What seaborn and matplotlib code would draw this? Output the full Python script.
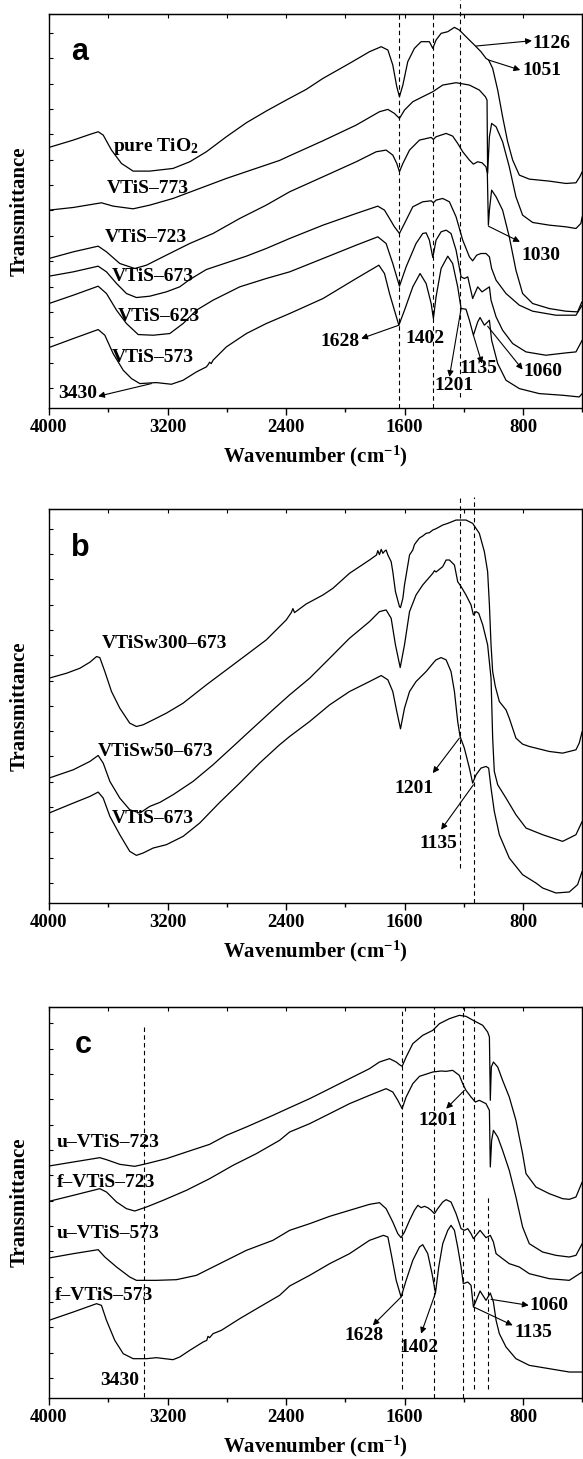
import numpy as np
import seaborn as sns
import matplotlib.pyplot as plt

sns.set_style('ticks', rc={'axes.edgecolor': 'black', 'xtick.color': 'black',
                           'ytick.color': 'black', 'text.color': 'black',
                           'axes.labelcolor': 'black'})
plt.rcParams['font.family'] = ['Liberation Serif', 'DejaVu Serif']
plt.rcParams['font.weight'] = 'bold'
plt.rcParams['mathtext.default'] = 'regular'

# ---------------- panel a : VTiS calcined at different temperatures ----------------
a_pure_wn = [4000, 3836, 3724, 3668, 3634, 3578, 3511, 3432, 3320, 3163, 3050, 2938, 2803, 2668, 2534,
             2399, 2264, 2151, 1972, 1837, 1758, 1713, 1680, 1653, 1635, 1612, 1579, 1534, 1489, 1433,
             1410, 1388, 1354, 1309, 1264, 1231, 1186, 1129, 1085, 1051, 1033, 1006, 972, 939, 905,
             871, 826, 759, 624, 512, 444, 418, 402]
a_pure_t = [78.1, 80.3, 82.0, 82.8, 81.8, 77.3, 73.3, 71.0, 71.0, 71.8, 73.8, 76.8, 81.3, 85.5, 89.0,
            92.3, 95.5, 98.8, 103.3, 106.8, 108.3, 107.3, 102.8, 96.3, 93.3, 96.8, 103.8, 107.8, 109.8, 109.8,
            107.8, 110.3, 112.3, 112.8, 114.1, 113.3, 111.3, 108.8, 106.8, 104.8, 104.3, 101.8, 95.3, 87.3, 79.8,
            74.3, 69.8, 68.6, 68.0, 67.3, 67.5, 69.3, 70.8]

a_773_wn = [4000, 3836, 3646, 3567, 3432, 3320, 3163, 2983, 2803, 2624, 2444, 2376, 2151, 1927, 1770,
            1713, 1669, 1635, 1601, 1545, 1478, 1410, 1343, 1253, 1163, 1096, 1055, 1044, 1040, 1028,
            1013, 983, 939, 894, 849, 804, 736, 624, 512, 444, 411, 402]
a_773_t = [59.3, 60.1, 61.5, 60.5, 59.7, 60.8, 62.8, 65.8, 68.8, 71.5, 74.2, 75.6, 80.1, 84.8, 88.8,
           89.5, 88.3, 86.8, 89.3, 91.8, 93.3, 94.8, 96.8, 97.5, 96.8, 95.3, 93.3, 92.3, 70.3, 81.3,
           85.3, 84.3, 79.8, 72.3, 63.3, 57.8, 55.6, 54.8, 54.3, 53.8, 55.3, 57.3]

a_723_wn = [4000, 3836, 3668, 3612, 3522, 3421, 3342, 3208, 3050, 2893, 2713, 2534, 2376, 2151, 1927,
            1792, 1725, 1680, 1653, 1635, 1612, 1567, 1500, 1421, 1406, 1388, 1320, 1276, 1242, 1208,
            1163, 1136, 1107, 1078, 1051, 1042, 1035, 1028, 1013, 983, 939, 894, 849, 804, 736,
            624, 512, 433, 404]
a_723_t = [44.8, 46.8, 48.5, 46.8, 43.3, 41.8, 42.8, 45.8, 49.3, 52.3, 56.8, 60.8, 64.8, 69.3, 73.8,
           76.8, 77.3, 75.8, 73.3, 70.8, 73.3, 77.3, 80.3, 81.1, 80.5, 81.3, 82.3, 81.5, 79.3, 76.8,
           74.3, 73.1, 73.8, 73.5, 72.3, 70.3, 54.8, 59.3, 65.3, 63.3, 59.3, 51.3, 41.3, 34.3, 31.3,
           29.8, 29.0, 28.8, 31.8]

a_673_wn = [4000, 3836, 3668, 3612, 3544, 3477, 3410, 3320, 3208, 3118, 3050, 2938, 2803, 2668, 2534,
            2376, 2151, 1927, 1781, 1736, 1702, 1669, 1635, 1601, 1545, 1478, 1421, 1406, 1388, 1343,
            1298, 1253, 1208, 1163, 1141, 1114, 1085, 1051, 1028, 1013, 983, 916, 826, 736, 579,
            444, 402]
a_673_t = [39.5, 40.8, 42.5, 40.8, 37.3, 34.3, 33.1, 33.5, 34.8, 36.3, 38.5, 41.5, 43.5, 45.5, 47.8,
           50.8, 54.8, 58.3, 60.5, 59.3, 56.8, 54.3, 52.3, 55.3, 60.3, 61.8, 62.1, 61.5, 62.3, 62.8,
           61.8, 57.3, 50.3, 45.3, 44.1, 45.8, 46.3, 46.3, 45.3, 41.8, 38.3, 34.3, 30.8, 29.0, 27.8,
           27.8, 30.8]

a_623_wn = [4000, 3836, 3668, 3612, 3544, 3477, 3398, 3297, 3185, 3095, 3005, 2893, 2713, 2534, 2376,
            2151, 1927, 1781, 1725, 1680, 1635, 1590, 1523, 1478, 1455, 1433, 1410, 1388, 1354, 1320,
            1287, 1253, 1219, 1197, 1174, 1141, 1107, 1078, 1028, 1017, 983, 939, 871, 781, 647,
            512, 444, 402]
a_623_t = [31.3, 33.8, 36.5, 34.3, 29.3, 25.3, 22.0, 21.8, 22.3, 25.3, 29.3, 32.3, 36.3, 38.8, 40.8,
           44.8, 48.8, 51.3, 49.3, 43.3, 36.5, 42.3, 49.3, 52.3, 52.5, 50.3, 45.1, 50.3, 52.8, 53.3,
           52.3, 47.3, 39.3, 38.8, 39.3, 32.8, 36.3, 34.8, 36.3, 32.3, 27.3, 23.3, 19.3, 16.8, 15.8,
           16.5, 16.8, 20.3]

a_573_wn = [4000, 3836, 3668, 3623, 3567, 3499, 3443, 3387, 3275, 3174, 3095, 3005, 2938, 2927, 2916,
            2905, 2893, 2803, 2668, 2534, 2376, 2151, 1927, 1774, 1736, 1702, 1669, 1639, 1601, 1545,
            1496, 1455, 1421, 1406, 1388, 1354, 1309, 1276, 1242, 1219, 1186, 1163, 1136, 1107, 1091,
            1062, 1028, 1013, 972, 916, 826, 692, 534, 422, 402]
a_573_t = [18.1, 20.8, 23.5, 21.8, 16.3, 11.3, 8.8, 7.3, 7.6, 7.1, 8.3, 10.8, 12.3, 12.9, 13.7,
           13.3, 14.3, 18.3, 22.3, 25.3, 28.3, 32.8, 38.8, 42.8, 40.3, 34.3, 29.3, 24.8, 29.3, 36.3,
           40.3, 37.3, 31.3, 26.8, 33.3, 41.8, 45.5, 43.3, 36.3, 29.8, 29.6, 26.3, 21.8, 25.8, 27.1,
           24.8, 26.3, 20.3, 13.3, 8.3, 5.8, 4.3, 3.8, 3.3, 4.3]

# ---------------- panel b : water washed samples ----------------
b_w300_wn = [4000, 3881, 3791, 3724, 3679, 3657, 3623, 3578, 3522, 3455, 3410, 3365, 3297, 3208, 3095,
             2938, 2803, 2668, 2534, 2399, 2365, 2354, 2343, 2264, 2151, 2084, 1972, 1837, 1790, 1781,
             1770, 1758, 1747, 1736, 1725, 1713, 1691, 1680, 1662, 1635, 1628, 1612, 1601, 1567, 1545,
             1534, 1523, 1500, 1478, 1455, 1433, 1410, 1388, 1343, 1309, 1253, 1186, 1141, 1096, 1062,
             1040, 1028, 1017, 1006, 988, 961, 916, 894, 849, 804, 759, 624, 534, 444, 422,
             402]
b_w300_t = [67.5, 69.0, 70.5, 72.3, 74.0, 73.7, 69.5, 63.5, 58.5, 54.0, 53.0, 53.5, 55.0, 57.0, 60.0,
            65.5, 70.0, 74.5, 79.0, 85.0, 87.2, 88.4, 87.2, 89.8, 92.5, 94.5, 99.0, 103.0, 104.5, 105.8,
            104.6, 106.2, 105.0, 105.6, 106.0, 104.5, 102.5, 99.5, 93.5, 89.0, 88.7, 91.5, 95.5, 104.5, 106.0,
            107.6, 108.3, 109.6, 110.2, 111.0, 111.2, 112.0, 112.4, 113.5, 114.0, 115.0, 115.0, 114.0, 111.0, 105.5,
            99.5, 89.5, 77.5, 69.5, 65.0, 60.5, 58.0, 55.5, 49.5, 47.7, 47.0, 45.5, 45.0, 46.0, 48.0,
            51.5]

b_w50_wn = [4000, 3836, 3724, 3668, 3634, 3589, 3522, 3455, 3387, 3320, 3252, 3163, 3028, 2893, 2758,
            2624, 2489, 2376, 2241, 2106, 1972, 1837, 1770, 1725, 1691, 1662, 1630, 1601, 1567, 1523,
            1478, 1410, 1399, 1388, 1343, 1320, 1298, 1264, 1242, 1219, 1186, 1152, 1136, 1118, 1100,
            1073, 1040, 1017, 1006, 995, 972, 916, 849, 781, 669, 534, 444, 402]
b_w50_t = [37.5, 40.0, 42.5, 44.3, 42.0, 36.5, 31.5, 28.0, 27.0, 29.0, 30.2, 32.5, 36.5, 41.5, 47.0,
           52.5, 58.0, 62.5, 67.5, 73.5, 79.5, 84.5, 87.5, 88.0, 85.5, 77.5, 70.7, 77.5, 87.5, 92.5,
           95.5, 99.0, 99.8, 99.4, 101.0, 103.0, 103.0, 101.5, 96.5, 95.0, 92.5, 89.5, 86.5, 87.5, 87.0,
           83.5, 77.5, 67.5, 49.5, 39.5, 35.5, 31.5, 26.5, 22.5, 20.5, 18.5, 20.5, 24.5]

b_673_wn = [4000, 3836, 3724, 3668, 3634, 3589, 3522, 3455, 3410, 3365, 3297, 3208, 3095, 2983, 2848,
            2713, 2579, 2444, 2376, 2241, 2106, 1972, 1837, 1758, 1713, 1680, 1653, 1628, 1601, 1567,
            1523, 1455, 1399, 1388, 1354, 1320, 1287, 1264, 1242, 1226, 1197, 1163, 1141, 1118, 1085,
            1051, 1033, 1017, 995, 961, 894, 804, 714, 669, 579, 489, 433, 402]
b_673_t = [27.0, 30.0, 32.0, 33.3, 31.5, 26.0, 20.5, 15.5, 14.3, 15.0, 16.5, 17.5, 20.0, 24.0, 30.2,
           36.0, 42.0, 47.5, 50.0, 54.5, 59.5, 63.5, 66.5, 68.3, 67.0, 63.5, 57.5, 52.3, 58.5, 63.5,
           66.5, 69.5, 72.5, 73.0, 73.7, 73.0, 69.5, 63.5, 54.5, 50.0, 46.5, 40.5, 36.0, 38.5, 40.5,
           41.0, 40.5, 34.5, 27.5, 20.5, 13.5, 8.5, 6.0, 4.5, 3.0, 3.3, 5.5, 9.5]

# ---------------- panel c : used (u) and fresh (f) catalysts ----------------
c_u723_wn = [4000, 3836, 3657, 3612, 3522, 3421, 3342, 3208, 3073, 2916, 2803, 2668, 2489, 2376, 2241,
             2106, 1972, 1837, 1770, 1702, 1657, 1635, 1617, 1590, 1545, 1478, 1410, 1399, 1365, 1298,
             1231, 1186, 1129, 1073, 1040, 1028, 1022, 1015, 1001, 972, 939, 894, 849, 804, 781,
             714, 624, 534, 489, 444, 402]
c_u723_t = [69.6, 70.8, 72.1, 71.5, 70.1, 69.5, 70.3, 71.8, 73.8, 76.1, 78.8, 81.3, 84.8, 87.1, 89.8,
            92.8, 95.8, 98.8, 100.8, 101.8, 100.8, 100.0, 99.5, 102.3, 106.3, 108.8, 110.3, 110.8, 112.3, 113.8,
            114.8, 114.5, 113.1, 111.8, 109.8, 108.3, 89.3, 99.3, 100.8, 99.3, 95.3, 90.3, 83.3, 73.3, 67.3,
            63.3, 61.3, 59.8, 59.6, 60.3, 64.8]

c_f723_wn = [4000, 3836, 3657, 3612, 3544, 3477, 3421, 3342, 3230, 3073, 2916, 2758, 2601, 2444, 2376,
             2241, 2106, 1972, 1837, 1725, 1680, 1646, 1617, 1590, 1545, 1500, 1410, 1354, 1320, 1276,
             1231, 1208, 1186, 1152, 1123, 1096, 1051, 1028, 1022, 1013, 1001, 972, 939, 894, 849,
             804, 759, 669, 579, 489, 444, 402]
c_f723_t = [59.0, 60.8, 62.8, 61.8, 58.8, 56.8, 56.1, 57.3, 59.3, 62.3, 65.8, 69.8, 73.3, 77.3, 79.8,
            82.3, 85.3, 88.3, 90.8, 92.8, 91.8, 89.3, 86.8, 90.3, 94.3, 96.5, 97.8, 98.1, 98.0, 98.3,
            96.8, 94.3, 92.3, 90.3, 88.8, 89.3, 88.3, 86.3, 69.3, 77.3, 80.3, 78.3, 74.3, 68.3, 60.3,
            51.3, 46.3, 43.8, 42.8, 42.3, 42.8, 46.3]

c_u573_wn = [4000, 3836, 3668, 3623, 3544, 3455, 3410, 3275, 3140, 3005, 2893, 2803, 2668, 2489, 2376,
             2241, 2106, 1972, 1837, 1770, 1725, 1680, 1646, 1624, 1601, 1567, 1534, 1511, 1489, 1466,
             1444, 1421, 1399, 1377, 1343, 1320, 1287, 1253, 1219, 1197, 1174, 1152, 1136, 1091, 1051,
             1022, 1001, 983, 939, 894, 826, 759, 624, 489, 402]
c_u573_t = [42.0, 43.3, 44.5, 42.3, 39.3, 36.3, 35.3, 35.3, 35.5, 36.8, 39.3, 41.3, 44.3, 47.3, 50.3,
            52.3, 54.5, 56.3, 58.1, 58.6, 56.8, 52.8, 49.3, 48.1, 49.8, 53.3, 56.3, 57.8, 57.1, 57.5,
            57.1, 56.3, 55.3, 56.8, 58.8, 59.5, 58.8, 55.3, 50.8, 50.3, 50.8, 49.3, 47.8, 50.3, 48.1,
            48.8, 46.8, 43.3, 41.8, 40.3, 39.3, 37.3, 35.8, 35.3, 37.8]

c_f573_wn = [4000, 3836, 3679, 3646, 3612, 3556, 3499, 3432, 3342, 3275, 3163, 3118, 3050, 2960, 2935,
             2927, 2916, 2893, 2837, 2713, 2579, 2444, 2376, 2241, 2106, 1972, 1837, 1743, 1713, 1691,
             1657, 1624, 1590, 1545, 1500, 1478, 1444, 1415, 1392, 1370, 1343, 1309, 1287, 1264, 1242,
             1219, 1204, 1174, 1152, 1136, 1091, 1051, 1022, 1001, 983, 961, 916, 849, 759, 624,
             489, 402]
c_f573_t = [23.3, 25.8, 28.3, 27.8, 23.3, 17.3, 13.3, 11.8, 11.8, 12.1, 11.5, 12.3, 14.3, 16.8, 17.3,
            18.5, 18.1, 19.3, 20.3, 23.8, 27.3, 30.8, 33.6, 36.8, 40.3, 43.3, 47.3, 48.8, 48.3, 43.3,
            35.3, 30.3, 35.3, 41.3, 45.3, 46.0, 43.3, 37.3, 31.5, 39.3, 46.3, 50.3, 51.8, 50.3, 45.3,
            39.3, 34.3, 34.8, 33.8, 27.3, 32.1, 29.3, 31.5, 28.8, 23.3, 19.3, 15.3, 11.8, 9.8, 8.8,
            7.8, 7.8]

# band positions marked with dashed lines (wavenumber, y from, y to)
a_bands = [(1637, 0, 118.1), (1408, 0, 118.1), (1224, 3.3, 122.3)]
b_bands = [(1228, 10.5, 121.9), (1134, 0, 121.9)]
c_bands = [(3360, 0.3, 111.8), (1619, 2.8, 116.3), (1399, 0, 117.3), (1204, 0, 117.3),
           (1134, 2.8, 117.3), (1035, 2.8, 60.3)]

LBL = 14


def style_axes(ax, ytop):
    ax.set_xlim(4000, 400)
    ax.set_ylim(0, ytop)
    ax.set_xticks([4000, 3200, 2400, 1600, 800])
    ax.set_xticks([3600, 2800, 2000, 1200, 400], minor=True)
    ax.set_yticks(np.arange(6.0, ytop, 7.6))
    ax.set_yticklabels([])
    ax.tick_params(axis='x', which='major', direction='out', length=5, width=1, labelsize=13.5, pad=3)
    ax.tick_params(axis='x', which='minor', direction='out', length=3, width=1)
    ax.tick_params(axis='y', direction='in', length=3, width=0.8)
    for lab in ax.get_xticklabels():
        lab.set_fontweight('bold')
    top = ax.secondary_xaxis('top')
    top.set_xticks([4000, 3200, 2400, 1600, 800])
    top.set_xticks([3600, 2800, 2000, 1200, 400], minor=True)
    top.tick_params(which='both', direction='in', length=3, width=0.8, labeltop=False)
    for s in ax.spines.values():
        s.set_linewidth(1.0)
    ax.set_xlabel('Wavenumber (cm$^{-1}$)', fontsize=15, fontweight='bold')
    ax.set_ylabel('Transmittance', fontsize=15, fontweight='bold')
    ax.xaxis.set_label_coords(0.5, -0.092)
    ax.yaxis.set_label_coords(-0.037, 0.5)


def draw_panel(ax, curves, bands, ytop):
    for wn, t in curves:
        sns.lineplot(x=wn, y=t, ax=ax, color='black', linewidth=0.9, sort=False, estimator=None)
    for x, y0, y1 in bands:
        ax.plot([x, x], [y0, y1], color='black', lw=0.8, ls=(0, (4, 3)), clip_on=False)
    style_axes(ax, ytop)


def arrow(ax, tail, head):
    ax.annotate('', xy=head, xytext=tail,
                arrowprops=dict(arrowstyle='-|>', color='black', lw=0.8, mutation_scale=9,
                                shrinkA=0, shrinkB=0))


fig = plt.figure(figsize=(5.83, 14.59), dpi=100)
ax_a = fig.add_axes([0.0840, 0.7204, 0.9151, 0.2700])
ax_b = fig.add_axes([0.0840, 0.3811, 0.9151, 0.2700])
ax_c = fig.add_axes([0.0840, 0.0418, 0.9151, 0.2680])

draw_panel(ax_a, [(a_pure_wn, a_pure_t), (a_773_wn, a_773_t), (a_723_wn, a_723_t),
                  (a_673_wn, a_673_t), (a_623_wn, a_623_t), (a_573_wn, a_573_t)], a_bands, 118.1)
draw_panel(ax_b, [(b_w300_wn, b_w300_t), (b_w50_wn, b_w50_t), (b_673_wn, b_673_t)], b_bands, 118.3)
draw_panel(ax_c, [(c_u723_wn, c_u723_t), (c_f723_wn, c_f723_t), (c_u573_wn, c_u573_t),
                  (c_f573_wn, c_f573_t)], c_bands, 117.3)

# panel letters
for ax, (x, y), s in [(ax_a, (3791, 106.8), 'a'), (ax_b, (3791, 106.5), 'b'), (ax_c, (3769, 105.8), 'c')]:
    ax.text(x, y, s, fontsize=22, fontweight='bold', family='Liberation Sans', ha='center', va='center')

# panel a texts
for x, y, s, ha in [(3567, 78.3, 'pure TiO$_2$', 'left'), (3612, 65.8, 'VTiS–773', 'left'),
                    (3623, 51.0, 'VTiS–723', 'left'), (3578, 39.3, 'VTiS–673', 'left'),
                    (3533, 27.5, 'VTiS–623', 'left'), (3578, 15.1, 'VTiS–573', 'left'),
                    (3937, 4.3, '3430', 'left'), (736, 109.3, '1126', 'left'),
                    (804, 101.1, '1051', 'left'), (815, 45.8, '1030', 'left'),
                    (2039, 19.8, '1628', 'center'), (1462, 20.8, '1402', 'center'),
                    (1269, 6.8, '1201', 'center'), (1100, 11.8, '1135', 'center'),
                    (669, 10.8, '1060', 'center')]:
    ax_a.text(x, y, s, fontsize=LBL, fontweight='bold', ha=ha, va='center')
for tail, head in [((3309, 7.3), (3668, 3.5)), ((1118, 108.5), (741, 110.1)),
                   ((1033, 104.3), (820, 101.3)), ((1035, 54.5), (822, 49.8)),
                   ((1639, 24.8), (1893, 20.8)), ((1219, 29.8), (1298, 9.3)),
                   ((1136, 21.8), (1078, 13.3)), ((1040, 24.5), (804, 11.5))]:
    arrow(ax_a, tail, head)

# panel b texts
for x, y, s, ha in [(3645, 78.0, 'VTiSw300–673', 'left'), (3668, 45.5, 'VTiSw50–673', 'left'),
                    (3578, 25.5, 'VTiS–673', 'left'), (1540, 34.5, '1201', 'center'),
                    (1372, 18.0, '1135', 'center')]:
    ax_b.text(x, y, s, fontsize=LBL, fontweight='bold', ha=ha, va='center')
for tail, head in [((1231, 49.5), (1410, 39.0)), ((1136, 35.5), (1354, 22.0))]:
    arrow(ax_b, tail, head)

# panel c texts
for x, y, s, ha in [(3949, 76.8, 'u–VTiS–723', 'left'), (3949, 64.8, 'f–VTiS–723', 'left'),
                    (3949, 49.3, 'u–VTiS–573', 'left'), (3960, 30.8, 'f–VTiS–573', 'left'),
                    (3522, 5.3, '3430', 'center'), (1377, 83.3, '1201', 'center'),
                    (1877, 18.8, '1628', 'center'), (1505, 15.3, '1402', 'center'),
                    (759, 27.8, '1060', 'left'), (860, 19.8, '1135', 'left')]:
    ax_c.text(x, y, s, fontsize=LBL, fontweight='bold', ha=ha, va='center')
for tail, head in [((1197, 92.3), (1320, 86.8)), ((1624, 30.3), (1815, 21.8)),
                   ((1392, 31.5), (1489, 19.3)), ((1017, 29.6), (763, 27.8)),
                   ((1134, 27.3), (871, 21.8))]:
    arrow(ax_c, tail, head)

fig.savefig('out.png', dpi=100)
